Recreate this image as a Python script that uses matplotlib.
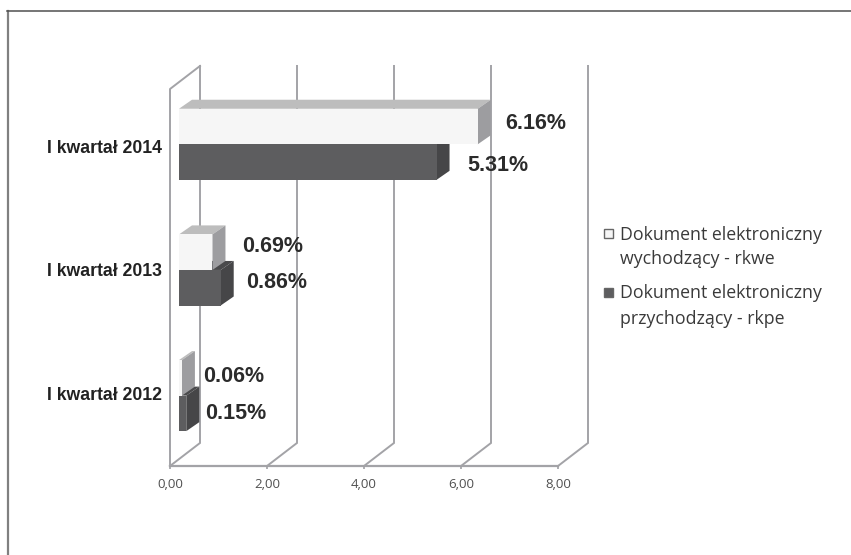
"""Polish 3D-look bar chart: electronic documents per quarter."""

import matplotlib
matplotlib.use("Agg")
import matplotlib.pyplot as plt
from matplotlib.patches import Polygon, Rectangle

categories = ["I kwartał 2012", "I kwartał 2013", "I kwartał 2014"]
rkwe = [0.06, 0.69, 6.16]
rkpe = [0.15, 0.86, 5.31]
rkwe_labels = ["0.06%", "0.69%", "6.16%"]
rkpe_labels = ["0.15%", "0.86%", "5.31%"]
x_ticks = [0, 2, 4, 6, 8]
x_tick_labels = ["0,00", "2,00", "4,00", "6,00", "8,00"]
legend_labels = ["Dokument elektroniczny\nwychodzący - rkwe",
                 "Dokument elektroniczny\nprzychodzący - rkpe"]

W, H = 851, 555
# pixel sizes of the fake perspective
PX_X = 48.5
PX_Y = 125.5
WALL_DX, WALL_DY = 30 / PX_X, 23 / PX_Y
BAR_DX, BAR_DY = 13 / PX_X, 9 / PX_Y
BAR_START = 9 / PX_X
BAR_H = 35.5 / PX_Y
# hand placement of the value labels, pixels from the bar end / bar centre
rkwe_nudge = [(21, 1), (30, 6), (27, 3.5)]
rkpe_nudge = [(19, -0.5), (25, 5), (31, -3.5)]

fig = plt.figure(figsize=(W / 100, H / 100), dpi=100)
ax = fig.add_axes([170 / W, 1 - 466 / H, 388 / W, 377 / H])
ax.set_xlim(0, 8)
ax.set_ylim(-0.56, 2.44)
ax.patch.set_alpha(0)
for s in ax.spines.values():
    s.set_visible(False)
ax.set_yticks([])
ax.set_xticks(x_ticks, x_tick_labels, fontsize=9.5, family="Open Sans", color="#505050")
ax.tick_params(axis="x", length=2, width=1.2, color="#a0a0a4", pad=7)

grid_c = "#a3a3a7"
y0, y1 = ax.get_ylim()
for t in x_ticks:
    ax.plot([t, t + WALL_DX, t + WALL_DX], [y0, y0 + WALL_DY, y1 + WALL_DY],
            color=grid_c, lw=1.4, clip_on=False, zorder=1, solid_joinstyle="miter")
ax.plot([0, 8], [y0, y0], color=grid_c, lw=1.6, clip_on=False, zorder=1)
ax.plot([0, 0, WALL_DX], [y0, y1, y1 + WALL_DY], color=grid_c, lw=1.4, clip_on=False, zorder=1)


def draw_bar(value, yc, face, top, side, z):
    """One bar with its top and side faces, from data coordinates."""
    x0, x1 = BAR_START, BAR_START + value
    b, t = yc, yc + BAR_H
    ax.add_patch(Polygon([(x0, t), (x0 + BAR_DX, t + BAR_DY), (x1 + BAR_DX, t + BAR_DY), (x1, t)],
                         fc=top, ec="none", zorder=z))
    ax.add_patch(Polygon([(x1, b), (x1 + BAR_DX, b + BAR_DY), (x1 + BAR_DX, t + BAR_DY), (x1, t)],
                         fc=side, ec="none", zorder=z))
    ax.add_patch(Rectangle((x0, b), value, BAR_H, fc=face, ec="none", zorder=z))


def value_label(value, yc, text, nudge):
    ax.text(BAR_START + value + nudge[0] / PX_X, yc + BAR_H / 2 + nudge[1] / PX_Y, text,
            ha="left", va="center", fontsize=15.5, fontweight="bold",
            family="Liberation Sans", color="#2b2b2b", zorder=5)


for i in range(len(categories)):
    # dark bar first: the white one sits over its top face
    draw_bar(rkpe[i], i - BAR_H, "#5d5d5f", "#4a4a4c", "#464648", 3)
    draw_bar(rkwe[i], i, "#f6f6f6", "#bdbdbd", "#9d9da0", 4)
    value_label(rkwe[i], i, rkwe_labels[i], rkwe_nudge[i])
    value_label(rkpe[i], i - BAR_H, rkpe_labels[i], rkpe_nudge[i])
    ax.text(-0.17, 1 + (i - 1) * 0.985 - 2 / PX_Y, categories[i], ha="right", va="center",
            fontsize=12.7, fontweight="bold", family="Liberation Sans", color="#222222", clip_on=False)

# legend and outer frame are placed in figure pixels
for label, y, fc in zip(legend_labels, [233, 292], ["#f6f6f6", "#5d5d5f"]):
    fig.add_artist(Rectangle((604 / W, 1 - (y + 5) / H), 9 / W, 9 / H, fc=fc, ec="#666666",
                             lw=1, transform=fig.transFigure))
    fig.text(620 / W, 1 - (y + 14) / H, label, fontsize=12.75, family="Open Sans", color="#3a3a3a",
             va="center", ha="left", linespacing=1.5)

fig.add_artist(plt.Line2D([8 / W, 8 / W], [0, 1 - 11 / H], color="#808080", lw=1.6))
fig.add_artist(plt.Line2D([7 / W, 1], [1 - 10.5 / H, 1 - 10.5 / H], color="#505050", lw=1.1))

fig.savefig("out.png", dpi=100)
plt.close(fig)
